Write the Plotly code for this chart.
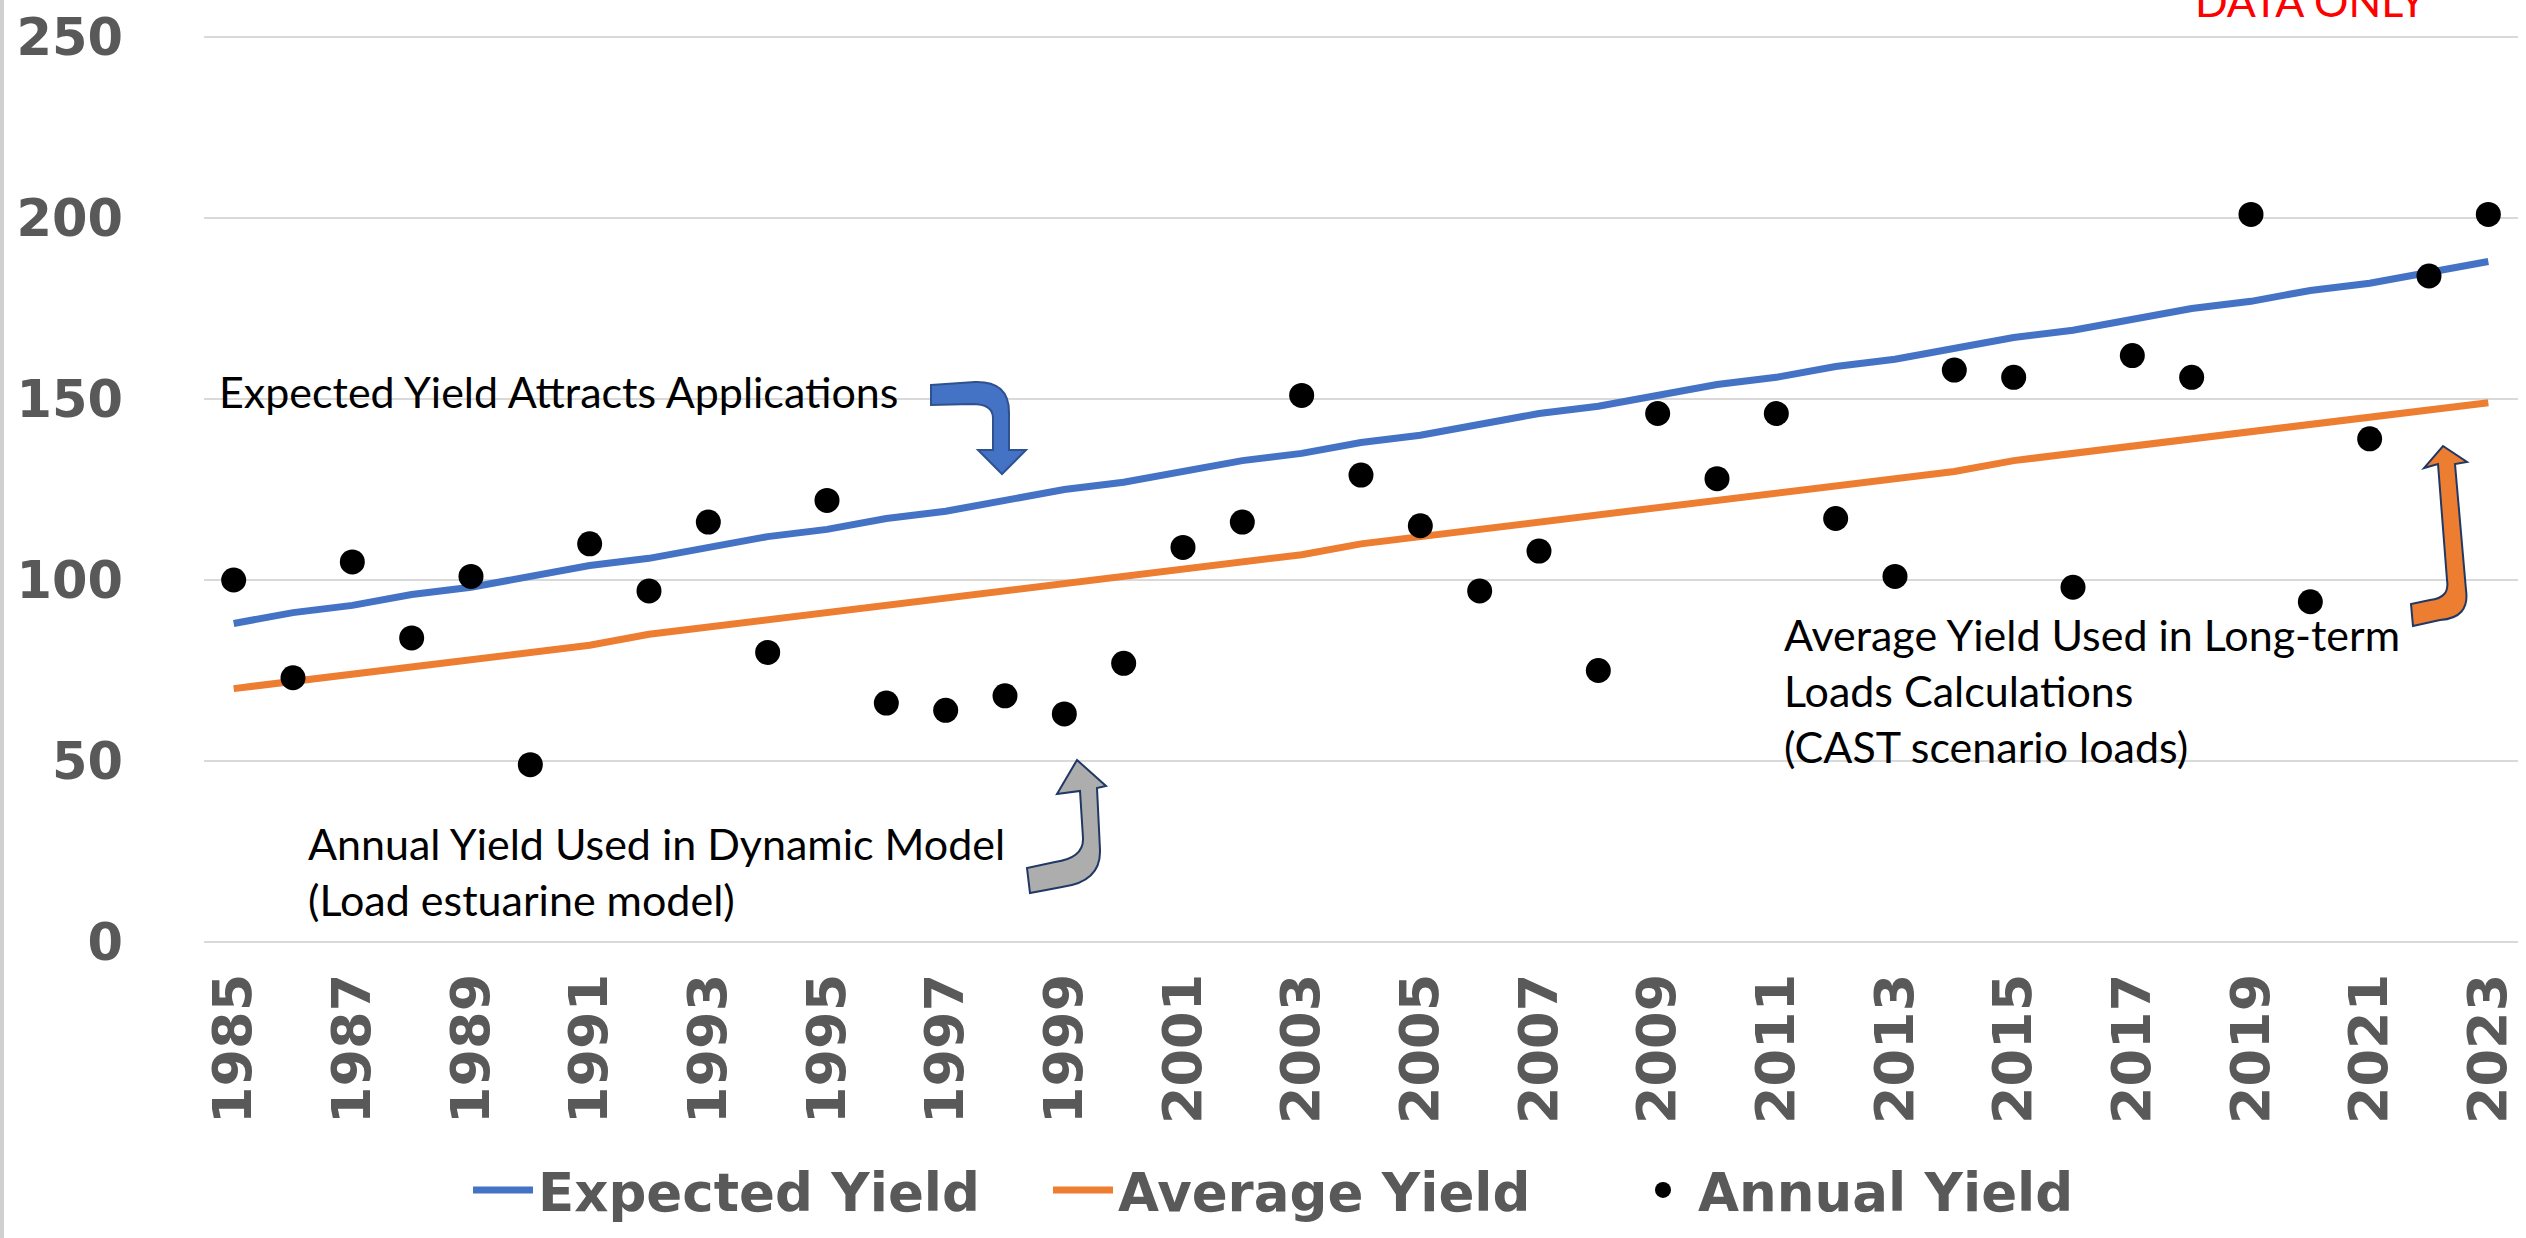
import plotly.graph_objects as go

# ---------------- data ----------------
years = list(range(1985, 2024))
annual_yield = [100, 73, 105, 84, 101, 49, 110, 97, 116, 80, 122, 66, 64, 68, 63, 77,
                109, 116, 151, 129, 115, 97, 108, 75, 146, 128, 146, 117, 101, 158,
                156, 98, 162, 156, 201, 94, 139, 184, 201]
expected_yield = [88, 91, 93, 96, 98, 101, 104, 106, 109, 112, 114, 117, 119, 122, 125,
                  127, 130, 133, 135, 138, 140, 143, 146, 148, 151, 154, 156, 159, 161,
                  164, 167, 169, 172, 175, 177, 180, 182, 185, 188]
average_yield = [70, 72, 74, 76, 78, 80, 82, 85, 87, 89, 91, 93, 95, 97, 99, 101, 103,
                 105, 107, 110, 112, 114, 116, 118, 120, 122, 124, 126, 128, 130, 133,
                 135, 137, 139, 141, 143, 145, 147, 149]
x_tick_years = list(range(1985, 2024, 2))
y_ticks = [0, 50, 100, 150, 200, 250]

# ---------------- geometry helpers (page pixels -> paper) ----------------
W, H = 2526, 1238
L, R, T, B = 204, 2518, 36, 942


def px(x):
    return (x - L) / (R - L)


def py(y):
    return (B - y) / (B - T)


def path(cmds):
    out = []
    for c in cmds:
        op, pts = c[0], c[1:]
        s = op
        for (x, y) in pts:
            s += f" {px(x):.5f},{py(y):.5f}"
        out.append(s)
    return " ".join(out) + " Z"


BLUE = "#4472C4"
ORANGE = "#ED7D31"
GRAY_TXT = "#595959"
GRID = "#D9D9D9"
OUTLINE = "#203864"

fig = go.Figure()
fig.add_trace(go.Scatter(x=years, y=expected_yield, mode="lines", name="Expected Yield",
                         line=dict(color=BLUE, width=7)))
fig.add_trace(go.Scatter(x=years, y=average_yield, mode="lines", name="Average Yield",
                         line=dict(color=ORANGE, width=7)))
fig.add_trace(go.Scatter(x=years, y=annual_yield, mode="markers", name="Annual Yield",
                         marker=dict(color="black", size=25)))

blue_arrow = path([
    ("M", (931, 385)), ("L", (975, 382)), ("Q", (1009, 381), (1009, 412)),
    ("L", (1009, 450)), ("L", (1026, 450)), ("L", (1002, 474)), ("L", (978, 450)),
    ("L", (993, 450)), ("L", (993, 418)), ("Q", (993, 404), (972, 404)), ("L", (931, 405)),
])
gray_arrow = path([
    ("M", (1077, 760)), ("L", (1106, 786)), ("L", (1097, 788)), ("L", (1100, 850)),
    ("Q", (1101, 882), (1062, 887)), ("L", (1030, 893)), ("L", (1027, 868)),
    ("L", (1055, 862)), ("Q", (1084, 858), (1083, 838)), ("L", (1080, 791)),
    ("L", (1057, 794)),
])
orange_arrow = path([
    ("M", (2443, 446)), ("L", (2467, 462)), ("L", (2455, 464)), ("L", (2466, 590)),
    ("Q", (2470, 618), (2440, 620)), ("L", (2413, 626)), ("L", (2411, 604)),
    ("L", (2430, 600)), ("Q", (2450, 598), (2447, 580)), ("L", (2438, 464)),
    ("L", (2424, 468)),
])

shapes = [
    dict(type="path", xref="paper", yref="paper", path=blue_arrow, fillcolor=BLUE,
         line=dict(color="#2F528F", width=2), layer="above"),
    dict(type="path", xref="paper", yref="paper", path=gray_arrow, fillcolor="#ADADAD",
         line=dict(color=OUTLINE, width=2), layer="above"),
    dict(type="path", xref="paper", yref="paper", path=orange_arrow, fillcolor=ORANGE,
         line=dict(color=OUTLINE, width=2), layer="above"),
    dict(type="line", xref="paper", yref="paper", x0=px(2), x1=px(2), y0=py(0), y1=py(H),
         line=dict(color="#D0D0D0", width=4)),
]

ann_font = dict(family="Lato", size=43, color="black")
annotations = [
    dict(text="Expected Yield Attracts Applications", x=px(217), y=py(391),
         xref="paper", yref="paper", xanchor="left", yanchor="middle", showarrow=False,
         font=ann_font, align="left"),
    dict(text="Annual Yield Used in Dynamic Model<br>(Load estuarine model)", x=px(306),
         y=py(871), xref="paper", yref="paper", xanchor="left", yanchor="middle",
         showarrow=False, font=ann_font, align="left"),
    dict(text="Average Yield Used in Long-term<br>Loads Calculations<br>(CAST scenario loads)",
         x=px(1782), y=py(690), xref="paper", yref="paper", xanchor="left",
         yanchor="middle", showarrow=False, font=ann_font, align="left"),
    dict(text="DATA ONLY", x=px(2310), y=py(0), xref="paper", yref="paper",
         xanchor="center", yanchor="middle", showarrow=False,
         font=dict(family="Lato", size=43, color="#FF0000")),
]

x_tick_font = dict(family="DejaVu Sans", size=54, color=GRAY_TXT, weight="bold")
y_tick_font = dict(family="DejaVu Sans", size=51, color=GRAY_TXT, weight="bold")

fig.update_layout(
    width=W, height=H,
    margin=dict(l=L, r=W - R, t=T, b=H - B, autoexpand=False),
    paper_bgcolor="white", plot_bgcolor="white",
    showlegend=True,
    legend=dict(orientation="h", x=px(468), y=py(1190), xanchor="left", yanchor="middle",
                font=dict(family="DejaVu Sans", size=53, color=GRAY_TXT, weight="bold"),
                itemwidth=60, entrywidth=505, entrywidthmode="pixels",
                bgcolor="rgba(0,0,0,0)"),
    shapes=shapes,
    annotations=annotations,
    xaxis=dict(range=[1984.5, 2023.5], tickmode="array", tickvals=x_tick_years,
               ticktext=[str(y) for y in x_tick_years], tickangle=-90,
               tickfont=x_tick_font, showgrid=False, zeroline=False, showline=False,
               ticks="", ticklabelstandoff=20),
    yaxis=dict(range=[0, 250.3], tickmode="array", tickvals=y_ticks,
               ticktext=[str(v) for v in y_ticks], tickfont=y_tick_font,
               showgrid=True, gridcolor=GRID, gridwidth=2, zeroline=True,
               zerolinecolor=GRID, zerolinewidth=2, showline=False, ticks="",
               ticklabelstandoff=80),
)

fig.write_html("out.html",
               config={"displayModeBar": False},
               post_script="document.body.style.margin='0px';"
                           "document.body.style.overflow='hidden';")
